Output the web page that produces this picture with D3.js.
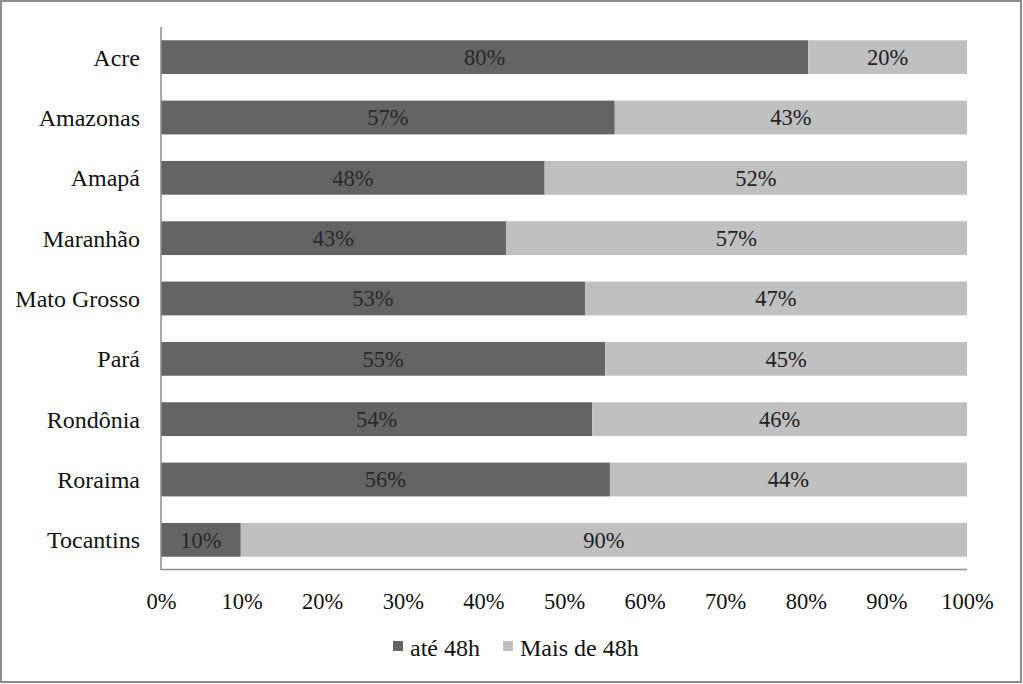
<!DOCTYPE html>
<html><head><meta charset="utf-8">
<script src="https://cdn.jsdelivr.net/npm/d3@7"></script>
<style>body{margin:0;background:#fff}svg{display:block}</style>
</head><body>
<svg id="c" width="1023" height="684"></svg>
<script>
const categories = ["Acre","Amazonas","Amapá","Maranhão","Mato Grosso","Pará","Rondônia","Roraima","Tocantins"];
const ate48h = [80,57,48,43,53,55,54,56,10];
const mais48h = [20,43,52,57,47,45,46,44,90];
const ate48hLen = [80.3,56.3,47.6,42.8,52.6,55.1,53.5,55.7,9.9];
const tickLabels = ["0%","10%","20%","30%","40%","50%","60%","70%","80%","90%","100%"];
const seriesNames = ["até 48h","Mais de 48h"];
const colors = ["#646464","#bfbfbf"];

const svg = d3.select("#c");
const fs = 22.5;
const ff = '"Liberation Serif","Times New Roman",Times,serif';
svg.append("rect").attr("x",1).attr("y",1).attr("width",1020).attr("height",681)
  .attr("fill","#fff").attr("stroke","#8c8c8c").attr("stroke-width",2);

const x = d3.scaleLinear().domain([0,100]).range([161,967]);
const y = d3.scaleBand().domain(categories).range([27,570]).paddingInner(0.44).paddingOuter(0.22);

function txt(sel, size){ return sel.style("font-family",ff).style("font-size",(size||fs)+"px"); }

const g = svg.append("g");
categories.forEach((c,i)=>{
  const a = ate48hLen[i];
  g.append("rect").attr("x",x(0)).attr("y",y(c)).attr("width",x(a)-x(0)).attr("height",y.bandwidth()).attr("fill",colors[0]);
  g.append("rect").attr("x",x(a)).attr("y",y(c)).attr("width",x(100)-x(a)).attr("height",y.bandwidth()).attr("fill",colors[1]);
  const cy = y(c)+y.bandwidth()/2;
  txt(g.append("text").attr("x",(x(0)+x(a))/2).attr("y",cy).attr("dy","0.35em").attr("text-anchor","middle")
    .attr("fill","#2a2a2a").text(ate48h[i]+"%"));
  txt(g.append("text").attr("x",(x(a)+x(100))/2).attr("y",cy).attr("dy","0.35em").attr("text-anchor","middle")
    .attr("fill","#222").text(mais48h[i]+"%"));
  txt(g.append("text").attr("x",140).attr("y",cy).attr("dy","0.35em").attr("text-anchor","end")
    .attr("fill","#111").text(c), 24);
});

svg.append("line").attr("x1",x(0)).attr("x2",x(0)).attr("y1",27).attr("y2",570).attr("stroke","#8c8c8c").attr("stroke-width",1.5);
svg.append("line").attr("x1",x(0)).attr("x2",x(100)).attr("y1",569.5).attr("y2",569.5).attr("stroke","#8c8c8c").attr("stroke-width",1.5);

const xAxis = d3.axisBottom(x).tickValues(d3.range(0,101,10)).tickFormat((d,i)=>tickLabels[i]).tickSize(0).tickPadding(0);
const ax = svg.append("g").attr("transform","translate(0,601)").call(xAxis);
ax.select(".domain").remove();
txt(ax.selectAll("text")).attr("fill","#111").attr("y",0).attr("dy","0.35em");

const leg = svg.append("g");
const legItems = [{x:393, tx:410},{x:503, tx:520}];
seriesNames.forEach((n,i)=>{
  leg.append("rect").attr("x",legItems[i].x).attr("y",641).attr("width",10).attr("height",10).attr("fill",colors[i]);
  txt(leg.append("text").attr("x",legItems[i].tx).attr("y",648).attr("dy","0.35em")
    .attr("fill","#111").text(n), 24);
});
</script>
</body></html>
